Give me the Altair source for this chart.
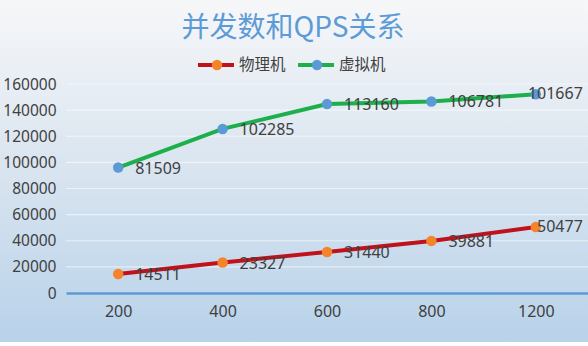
import altair as alt
import pandas as pd

# ---- data ----
categories = ["200", "400", "600", "800", "1200"]
series_names = ["物理机", "虚拟机"]
physical = [14511, 23327, 31440, 39881, 50477]
virtual = [81509, 102285, 113160, 106781, 101667]
y_ticks = [0, 20000, 40000, 60000, 80000, 100000, 120000, 140000, 160000]
title_text = "并发数和QPS关系"

line_colors = ["#C0121B", "#1DAF4B"]
dot_colors = ["#F5832A", "#5B9BD5"]

rows = []
for i, c in enumerate(categories):
    rows.append({"cat": c, "series": series_names[0], "value": physical[i], "order": 0})
    rows.append({"cat": c, "series": series_names[1], "value": virtual[i], "order": 1})
df = pd.DataFrame(rows)
grid_df = pd.DataFrame({"tick": y_ticks})

W, H = 522, 209
PL, PT, PR, PB = 66, 84, 0, 53
TXT = "#404040"
NUM_FONT = "Noto Sans"
CJK_FONT = "Noto Sans CJK SC"

x_enc = alt.X("cat:N", sort=categories,
              axis=alt.Axis(title=None, labelAngle=0, ticks=False, labelPadding=10,
                            domainColor="#5B9BD5", domainWidth=2.5, labelFontSize=16,
                            labelColor=TXT, labelFont=NUM_FONT, zindex=1, grid=False))
y_scale = alt.Scale(domain=[0, 160000], nice=False, zero=True)
y_axis = alt.Axis(title=None, values=y_ticks, format="d", ticks=False, domain=False,
                  labelPadding=10, labelFontSize=15.5, labelColor=TXT,
                  labelFont=NUM_FONT, grid=False, zindex=1)
y_enc = alt.Y("y1:Q", scale=y_scale, axis=y_axis)

base = alt.Chart(df).transform_stack(
    stack="value", groupby=["cat"], as_=["y0", "y1"], sort=[alt.SortField("order")]
)

bg = alt.Chart(alt.Data(values=[{}])).mark_rect(
    fill=alt.Gradient(gradient="linear",
                      stops=[alt.GradientStop(color="#F6F7F9", offset=0),
                             alt.GradientStop(color="#DCE6F0", offset=0.45),
                             alt.GradientStop(color="#B8D2EA", offset=1)],
                      x1=0, x2=0, y1=0, y2=1)
).encode(x=alt.value(-PL), x2=alt.value(W + PR), y=alt.value(-PT), y2=alt.value(H + PB - 4))

grid = alt.Chart(grid_df).transform_filter("datum.tick > 0").mark_rule(
    color="#FFFFFF", strokeWidth=1.2, opacity=0.55
).encode(y=alt.Y("tick:Q", scale=y_scale, axis=y_axis))

lines = base.mark_line(strokeWidth=4).encode(
    x=x_enc, y=y_enc,
    stroke=alt.Stroke("series:N", scale=alt.Scale(domain=series_names, range=line_colors), legend=None),
    detail="series:N",
)
points = base.mark_point(filled=True, size=110, opacity=1).encode(
    x=x_enc, y=y_enc,
    fill=alt.Fill("series:N", scale=alt.Scale(domain=series_names, range=dot_colors), legend=None),
)
labels_main = base.transform_filter(f"datum.cat != '{categories[-1]}'").mark_text(
    align="left", baseline="middle", dx=17, dy=1, fontSize=16, font=NUM_FONT, color=TXT
).encode(x=x_enc, y=y_enc, text=alt.Text("value:Q", format="d"))
labels_last = base.transform_filter(f"datum.cat == '{categories[-1]}'").mark_text(
    align="right", baseline="middle", dx=47, dy=0, fontSize=16, font=NUM_FONT, color=TXT
).encode(x=x_enc, y=y_enc, text=alt.Text("value:Q", format="d"))

# title
title = alt.Chart(alt.Data(values=[{}])).mark_text(
    text=title_text, fontSize=28, font=CJK_FONT, color="#5C9BD6", align="center", baseline="middle"
).encode(x=alt.value(293 - PL), y=alt.value(29 - PT))

# manual legend
LY = 65 - PT
leg = []
for i, (name, lx) in enumerate(zip(series_names, [198, 298])):
    leg.append(alt.Chart(alt.Data(values=[{}])).mark_rule(color=line_colors[i], strokeWidth=4).encode(
        x=alt.value(lx - PL), x2=alt.value(lx + 36 - PL), y=alt.value(LY)))
    leg.append(alt.Chart(alt.Data(values=[{}])).mark_point(filled=True, size=110, opacity=1,
                                                            fill=dot_colors[i]).encode(
        x=alt.value(lx + 19 - PL), y=alt.value(LY)))
    leg.append(alt.Chart(alt.Data(values=[{}])).mark_text(
        text=name, fontSize=15.5, font=CJK_FONT, color=TXT, align="left", baseline="middle").encode(
        x=alt.value(lx + 41 - PL), y=alt.value(LY)))

chart = alt.layer(bg, grid, lines, points, labels_main, labels_last, title, *leg).properties(
    width=W, height=H,
    padding={"left": PL, "top": PT, "right": PR, "bottom": PB},
    autosize=alt.AutoSizeParams(type="none"),
    background="#FFFFFF",
).configure_view(stroke=None)

chart.save("out.html", embed_options={"renderer": "svg", "actions": False})
